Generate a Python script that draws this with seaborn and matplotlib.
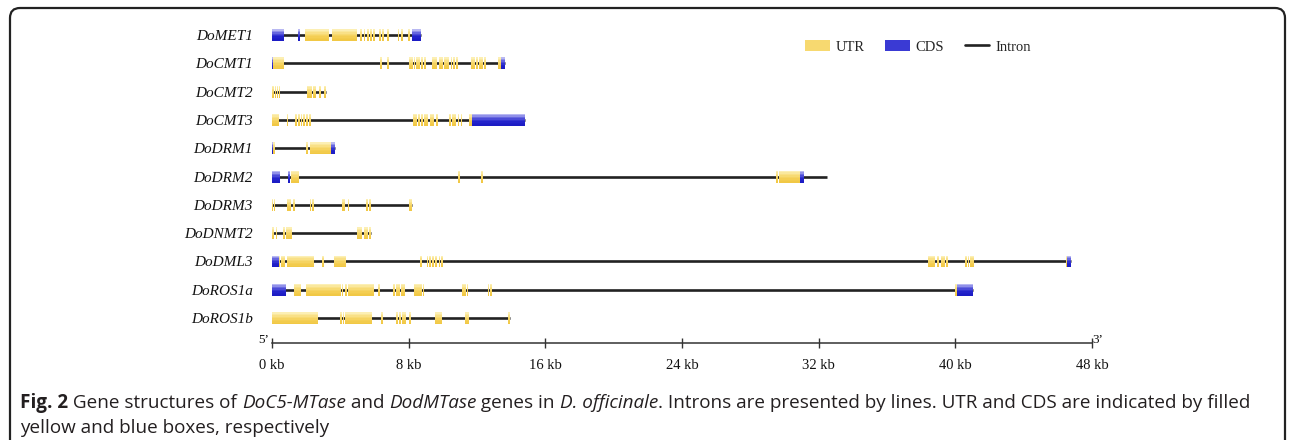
import numpy as np
import matplotlib
matplotlib.use("Agg")
import matplotlib.pyplot as plt
import matplotlib.colors as mcolors
from matplotlib.patches import Patch, FancyBboxPatch
from matplotlib.lines import Line2D
from matplotlib.transforms import IdentityTransform
import seaborn as sns

# ---------------- data (kb) ----------------
genes = ["DoMET1", "DoCMT1", "DoCMT2", "DoCMT3", "DoDRM1", "DoDRM2",
         "DoDRM3", "DoDNMT2", "DoDML3", "DoROS1a", "DoROS1b"]
gene_end = [8.70, 13.64, 3.15, 14.81, 3.71, 32.47, 8.18, 5.80, 46.76, 41.06, 13.94]

utr = {
    "DoMET1": [(1.93, 3.36), (3.50, 4.96), (5.18, 5.28), (5.36, 5.46), (5.56, 5.66),
               (5.74, 5.84), (5.94, 6.04), (6.26, 6.36), (6.44, 6.56), (6.71, 6.86),
               (7.35, 7.45), (7.54, 7.64), (7.99, 8.09)],
    "DoCMT1": [(0.05, 0.72), (6.31, 6.41), (6.76, 6.86), (8.03, 8.13), (8.16, 8.26),
               (8.30, 8.40), (8.44, 8.54), (8.57, 8.67), (8.73, 8.83), (8.91, 9.01),
               (9.39, 9.64), (9.80, 10.03), (10.09, 10.38), (10.46, 10.56), (10.60, 10.70),
               (10.79, 10.89), (11.64, 11.74), (11.79, 11.89), (11.95, 12.05),
               (12.11, 12.21), (12.26, 12.36), (12.40, 12.50), (13.25, 13.39)],
    "DoCMT2": [(0.00, 0.13), (0.18, 0.26), (0.30, 0.38), (0.40, 0.48), (2.03, 2.32),
               (2.38, 2.46), (2.48, 2.56), (2.77, 2.85), (3.06, 3.15)],
    "DoCMT3": [(0.00, 0.43), (0.85, 0.95), (1.36, 1.46), (1.51, 1.61), (1.67, 1.77),
               (1.82, 1.92), (1.98, 2.08), (2.17, 2.27), (8.27, 8.50), (8.57, 8.67),
               (8.71, 8.81), (8.91, 9.15), (9.24, 9.34), (9.39, 9.49), (9.59, 9.69),
               (10.37, 10.47), (10.53, 10.63), (10.68, 10.78), (10.86, 10.96),
               (11.05, 11.15), (11.55, 11.69)],
    "DoDRM1": [(0.08, 0.18), (1.98, 2.08), (2.22, 3.43)],
    "DoDRM2": [(1.10, 1.20), (1.24, 1.34), (1.37, 1.47), (1.49, 1.59), (10.91, 11.01),
               (12.25, 12.35), (29.50, 29.60), (29.70, 30.91)],
    "DoDRM3": [(0.00, 0.07), (0.10, 0.17), (0.90, 1.10), (1.21, 1.35), (2.21, 2.31),
               (2.37, 2.47), (4.12, 4.28), (4.42, 4.52), (5.53, 5.63), (5.69, 5.79),
               (8.04, 8.18)],
    "DoDNMT2": [(0.00, 0.09), (0.22, 0.32), (0.67, 0.77), (0.81, 0.91), (0.94, 1.04),
                (1.06, 1.16), (4.96, 5.25), (5.39, 5.49), (5.53, 5.63), (5.69, 5.79)],
    "DoDML3": [(0.41, 0.47), (0.52, 0.62), (0.65, 0.75), (0.86, 2.46), (2.92, 3.02),
               (3.65, 4.32), (8.66, 8.76), (9.05, 9.15), (9.20, 9.30), (9.36, 9.46),
               (9.55, 9.65), (9.75, 9.85), (9.92, 10.02), (38.39, 38.82), (38.92, 39.02),
               (39.15, 39.25), (39.29, 39.39), (39.45, 39.55), (40.58, 40.68),
               (40.72, 40.82), (40.86, 40.96), (40.98, 41.08), (46.45, 46.56)],
    "DoROS1a": [(1.29, 1.68), (1.99, 4.02), (4.07, 4.17), (4.27, 4.37), (4.47, 5.97),
                (6.23, 6.33), (7.11, 7.21), (7.25, 7.35), (7.39, 7.49), (7.54, 7.64),
                (7.68, 7.78), (8.33, 8.76), (8.81, 8.91), (11.12, 11.22), (11.25, 11.35),
                (11.39, 11.49), (12.62, 12.72), (12.75, 12.85), (39.99, 40.09)],
    "DoROS1b": [(0.00, 2.69), (3.99, 4.09), (4.13, 4.23), (4.26, 5.83), (6.37, 6.47),
                (7.28, 7.38), (7.44, 7.54), (7.60, 7.70), (7.74, 7.84), (8.03, 8.13),
                (9.54, 9.93), (11.29, 11.39), (11.44, 11.54), (13.84, 13.94)],
}
cds = {
    "DoMET1": [(0.00, 0.73), (1.50, 1.64), (8.21, 8.70)],
    "DoCMT1": [(0.00, 0.05), (13.39, 13.64)],
    "DoCMT2": [],
    "DoCMT3": [(11.69, 14.81)],
    "DoDRM1": [(0.00, 0.06), (3.43, 3.71)],
    "DoDRM2": [(0.00, 0.47), (0.95, 1.05), (30.91, 31.15)],
    "DoDRM3": [],
    "DoDNMT2": [],
    "DoDML3": [(0.00, 0.41), (46.56, 46.76)],
    "DoROS1a": [(0.00, 0.80), (40.09, 41.06)],
    "DoROS1b": [],
}
kb_ticks = [0, 8, 16, 24, 32, 40, 48]
tick_labels = [f"{v} kb" for v in kb_ticks]
legend_labels = ["UTR", "CDS", "Intron"]

# ---------------- style ----------------
sns.set_theme(style="white")
W, H = 1292, 440
fig = plt.figure(figsize=(W / 100, H / 100), dpi=100)
fig.patch.set_facecolor("white")

ax = fig.add_axes([272 / W, (H - 343) / H, 820 / W, (343 - 20) / H])
ax.set_facecolor("none")
ax.set_xlim(0, 48)
ax.set_ylim(10.88, -0.53)

yellow_grad = mcolors.LinearSegmentedColormap.from_list(
    "y", ["#FCEFB4", "#F8DE7E", "#F4CF55", "#F1C845"])
blue_grad = mcolors.LinearSegmentedColormap.from_list(
    "b", ["#B8B8F2", "#5A5ADC", "#2424CC", "#1C1CC4"])
NSLICE = 8
box_h = 0.42

def draw_boxes(row, segs, cmap):
    if not segs:
        return
    starts = np.array([s for s, e in segs])
    widths = np.array([e - s for s, e in segs])
    for k in range(NSLICE):
        yc = row - box_h / 2 + (k + 0.5) * box_h / NSLICE
        ax.barh([yc] * len(starts), widths, left=starts, height=box_h / NSLICE * 1.02,
                color=cmap(k / (NSLICE - 1)), edgecolor="none", linewidth=0, zorder=3)

for i, g in enumerate(genes):
    ax.plot([0, gene_end[i]], [i, i], color="#222222", lw=1.9, zorder=2,
            solid_capstyle="butt")
    draw_boxes(i, utr[g], yellow_grad)
    draw_boxes(i, cds[g], blue_grad)

serif = "Liberation Serif"
for s in ["left", "top", "right"]:
    ax.spines[s].set_visible(False)
ax.spines["bottom"].set_color("#333333")
ax.spines["bottom"].set_linewidth(1.1)
ax.set_xticks(kb_ticks)
ax.set_xticklabels(tick_labels, fontfamily=serif, fontsize=10.5, color="#111111")
ax.tick_params(axis="x", direction="inout", length=7, width=1, color="#333333",
               pad=8, bottom=True)
ax.set_yticks(range(len(genes)))
ax.set_yticklabels(genes, fontfamily=serif, fontstyle="italic", fontsize=11,
                   color="#111111")
ax.tick_params(axis="y", length=0, pad=14, left=False)
ax.grid(False)

fig.text(264 / W, 1 - 340 / H, "5\u2019", fontfamily=serif, fontsize=9.5,
         ha="center", va="center", color="#111111")
fig.text(1098 / W, 1 - 340 / H, "3\u2019", fontfamily=serif, fontsize=9.5,
         ha="center", va="center", color="#111111")

handles = [Patch(facecolor="#F7D970", edgecolor="none"),
           Patch(facecolor="#3A3AD4", edgecolor="none"),
           Line2D([0], [0], color="#222222", lw=1.9)]
fig.legend(handles, legend_labels, loc="center left",
           bbox_to_anchor=(805 / W, 1 - 47 / H), ncol=3, frameon=False,
           borderpad=0, borderaxespad=0,
           prop={"family": serif, "size": 10.5}, handlelength=1.7, handleheight=0.7,
           columnspacing=1.4, handletextpad=0.4)

# frame
fig.add_artist(FancyBboxPatch((10, -40), 1275, H - 8 + 40,
                              boxstyle="round,pad=0,rounding_size=10",
                              transform=IdentityTransform(), fill=False,
                              lw=1.6, ec="#222222"))

# caption
cap_font = "Open Sans"
cap_size = 13.6
cap_color = "#231F20"
renderer = fig.canvas.get_renderer()

def rich_line(x_px, y_px, pieces):
    x = x_px
    for txt, weight, style in pieces:
        t = fig.text(x / W, 1 - y_px / H, txt, fontfamily=cap_font, fontsize=cap_size,
                     fontweight=weight, fontstyle=style, color=cap_color,
                     ha="left", va="baseline")
        bb = t.get_window_extent(renderer)
        x += bb.width

rich_line(20, 408, [("Fig. 2", "bold", "normal"),
                    (" Gene structures of ", "normal", "normal"),
                    ("DoC5-MTase", "normal", "italic"),
                    (" and ", "normal", "normal"),
                    ("DodMTase", "normal", "italic"),
                    (" genes in ", "normal", "normal"),
                    ("D. officinale", "normal", "italic"),
                    (". Introns are presented by lines. UTR and CDS are indicated by filled",
                     "normal", "normal")])
rich_line(20, 433, [("yellow and blue boxes, respectively", "normal", "normal")])

fig.savefig("out.png", dpi=100)
